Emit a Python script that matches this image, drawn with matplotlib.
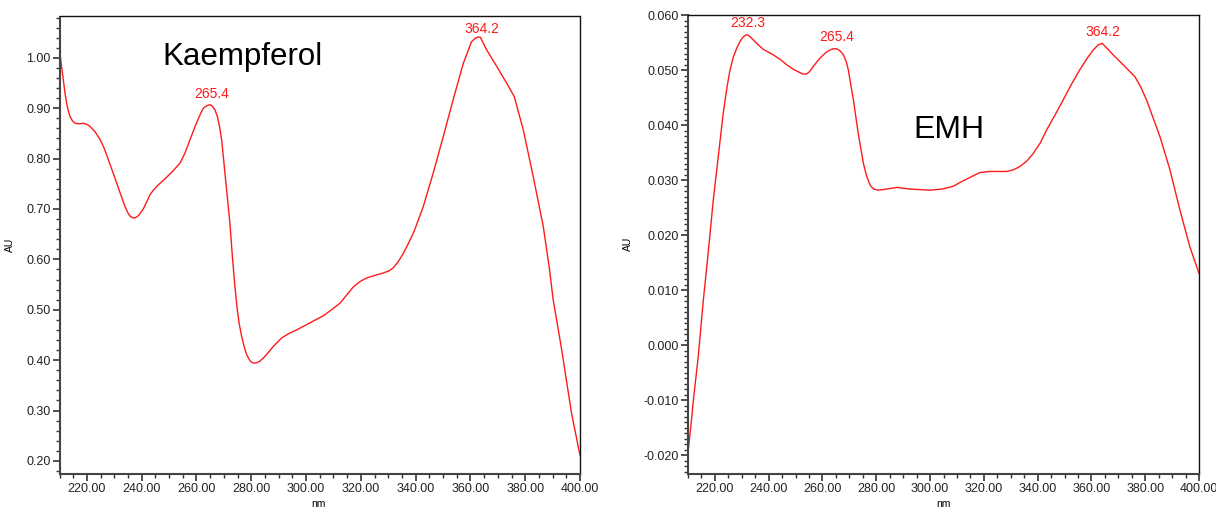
import numpy as np
import matplotlib
matplotlib.use("Agg")
import matplotlib.pyplot as plt
from matplotlib.ticker import MultipleLocator, FormatStrFormatter

plt.rcParams['font.family'] = ['Liberation Sans', 'DejaVu Sans']

# ---- Kaempferol spectrum ----
kae_nm = [210.0, 210.7, 211.4, 212.0, 212.6, 213.2, 213.8, 214.7, 215.7, 217.2,
          218.7, 220.0, 221.1, 223.0, 224.8, 226.2, 227.5, 229.6, 231.8, 233.9,
          235.0, 235.7, 236.5, 237.3, 238.2, 239.0, 240.6, 242.0, 243.0, 244.2,
          246.1, 249.1, 251.5, 254.0, 255.8, 257.6, 259.5, 261.3, 262.0, 262.7,
          263.8, 264.9, 265.8, 266.7, 267.6, 268.4, 269.2, 270.4, 272.2, 273.1,
          274.0, 274.8, 275.6, 276.5, 277.4, 278.3, 279.5, 280.3, 281.1, 282.0,
          282.9, 284.4, 286.2, 288.0, 291.1, 293.8, 296.6, 301.4, 306.3, 309.3,
          312.4, 314.8, 317.2, 319.7, 322.1, 325.0, 328.2, 330.2, 331.8, 333.6,
          335.5, 337.4, 339.4, 342.8, 346.4, 350.1, 353.7, 357.4, 360.4, 361.6,
          362.6, 363.6, 365.9, 369.6, 373.2, 376.0, 377.5, 379.3, 382.9, 386.6,
          388.8, 390.2, 393.3, 396.9, 399.7, 400.0]
kae_au = [1.016, 0.985, 0.956, 0.930, 0.910, 0.895, 0.884, 0.875, 0.870, 0.869,
          0.870, 0.868, 0.864, 0.853, 0.838, 0.822, 0.803, 0.771, 0.737, 0.705,
          0.692, 0.686, 0.683, 0.682, 0.684, 0.688, 0.700, 0.716, 0.728, 0.737,
          0.748, 0.763, 0.776, 0.791, 0.811, 0.837, 0.864, 0.887, 0.895, 0.901,
          0.905, 0.907, 0.904, 0.897, 0.884, 0.864, 0.837, 0.771, 0.672, 0.606,
          0.548, 0.505, 0.472, 0.447, 0.427, 0.411, 0.399, 0.395, 0.394, 0.395,
          0.397, 0.404, 0.415, 0.427, 0.444, 0.453, 0.460, 0.474, 0.488, 0.500,
          0.513, 0.529, 0.545, 0.556, 0.563, 0.568, 0.573, 0.577, 0.583, 0.595,
          0.612, 0.632, 0.655, 0.705, 0.771, 0.844, 0.917, 0.989, 1.032, 1.038,
          1.041, 1.041, 1.016, 0.983, 0.950, 0.923, 0.893, 0.857, 0.765, 0.665,
          0.583, 0.520, 0.421, 0.295, 0.219, 0.212]
kae_peaks = [265.4, 364.2]

# ---- EMH spectrum ----
emh_nm = [210.0, 211.0, 212.0, 213.8, 215.7, 217.6, 219.4, 221.3, 223.1, 223.8,
          224.7, 225.6, 226.8, 228.1, 229.4, 230.6, 231.5, 232.3, 233.3, 234.3,
          236.2, 238.0, 241.7, 244.2, 246.7, 249.1, 251.5, 252.8, 254.1, 255.3,
          256.6, 258.2, 259.7, 261.2, 262.8, 264.0, 265.3, 266.6, 267.8, 268.8,
          269.6, 271.5, 273.3, 275.2, 276.4, 277.7, 279.0, 280.7, 283.9, 287.6,
          292.5, 300.0, 304.5, 308.6, 311.5, 314.8, 318.5, 322.0, 325.0, 328.5,
          331.0, 333.4, 336.0, 338.4, 341.0, 343.3, 346.5, 349.5, 352.5, 355.7,
          358.3, 360.7, 362.5, 364.0, 368.1, 372.2, 376.2, 378.3, 380.5, 385.5,
          389.2, 392.9, 396.6, 400.0]
emh_au = [-0.0195, -0.0150, -0.0100, -0.0021, 0.0082, 0.0173, 0.0264, 0.0345, 0.0422, 0.0446,
          0.0475, 0.0500, 0.0523, 0.0540, 0.0553, 0.0561, 0.0564, 0.0564, 0.0560, 0.0555,
          0.0546, 0.0538, 0.0528, 0.0520, 0.0510, 0.0502, 0.0496, 0.0493, 0.0493, 0.0498,
          0.0507, 0.0517, 0.0525, 0.0532, 0.0537, 0.0539, 0.0539, 0.0535, 0.0528, 0.0516,
          0.0501, 0.0446, 0.0385, 0.0331, 0.0308, 0.0291, 0.0284, 0.0282, 0.0284, 0.0287,
          0.0284, 0.0282, 0.0284, 0.0289, 0.0297, 0.0305, 0.0314, 0.0316, 0.0316, 0.0316,
          0.0319, 0.0325, 0.0335, 0.0349, 0.0368, 0.0391, 0.0419, 0.0446, 0.0474, 0.0501,
          0.0521, 0.0537, 0.0546, 0.0549, 0.0528, 0.0508, 0.0488, 0.0470, 0.0446, 0.0379,
          0.0319, 0.0246, 0.0179, 0.0131]
emh_peaks = [232.3, 265.4, 364.2]

fig = plt.figure(figsize=(12.16, 5.09), dpi=100)
ax1 = fig.add_axes([59.5/1216, (509-474)/509, (580-59.5)/1216, (474-16.5)/509])
ax2 = fig.add_axes([688/1216, (509-473.7)/509, (1199-688)/1216, (473.7-14.7)/509])

RED = '#ff1a1a'


def style(ax, ymajor, yminor, fmt, ylim):
    ax.set_xlim(210, 400)
    ax.set_ylim(*ylim)
    ax.xaxis.set_major_locator(MultipleLocator(20))
    ax.xaxis.set_minor_locator(MultipleLocator(5))
    ax.yaxis.set_major_locator(MultipleLocator(ymajor))
    ax.yaxis.set_minor_locator(MultipleLocator(yminor))
    ax.xaxis.set_major_formatter(FormatStrFormatter('%.2f'))
    ax.yaxis.set_major_formatter(FormatStrFormatter(fmt))
    ax.tick_params(which='major', direction='out', length=5, width=1.2,
                   color='#333333', labelsize=9, labelcolor='#222222', pad=1.5)
    ax.tick_params(which='minor', direction='out', length=2.8, width=1.0,
                   color='#333333')
    ax.tick_params(top=False, right=False)
    for s in ('left', 'bottom'):
        ax.spines[s].set_color('#444444')
        ax.spines[s].set_linewidth(1.5)
    for s in ('top', 'right'):
        ax.spines[s].set_color('#111111')
        ax.spines[s].set_linewidth(1.0)


def draw(ax, nm, au, peaks):
    ax.plot(nm, au, color=RED, lw=1.0, solid_joinstyle='round')
    for p in peaks:
        yv = np.interp(p, nm, au)
        ax.annotate(f'{p:.1f}', xy=(p, yv), xytext=(0, 3.5), textcoords='offset points',
                    ha='center', va='bottom', color=RED, fontsize=10)


style(ax1, 0.10, 0.02, '%.2f', (0.174, 1.082))
draw(ax1, kae_nm, kae_au, kae_peaks)
ax1.text(276.8, 0.986, 'Kaempferol', fontsize=22.5, ha='center', va='baseline', color='black')
ax1.set_ylabel('AU', fontsize=7.5)
ax1.set_xlabel('nm', fontsize=7.5)
ax1.yaxis.set_label_coords(-0.0855, 0.5)
ax1.xaxis.set_label_coords(0.497, -0.0546)

style(ax2, 0.010, 0.001, '%.3f', (-0.02335, 0.0601))
draw(ax2, emh_nm, emh_au, emh_peaks)
ax2.text(307.0, 0.03764, 'EMH', fontsize=23, ha='center', va='baseline', color='black')
ax2.set_ylabel('AU', fontsize=7.5)
ax2.set_xlabel('nm', fontsize=7.5)
ax2.yaxis.set_label_coords(-0.1076, 0.5)
ax2.xaxis.set_label_coords(0.499, -0.0546)

fig.savefig('out.png', dpi=100)
